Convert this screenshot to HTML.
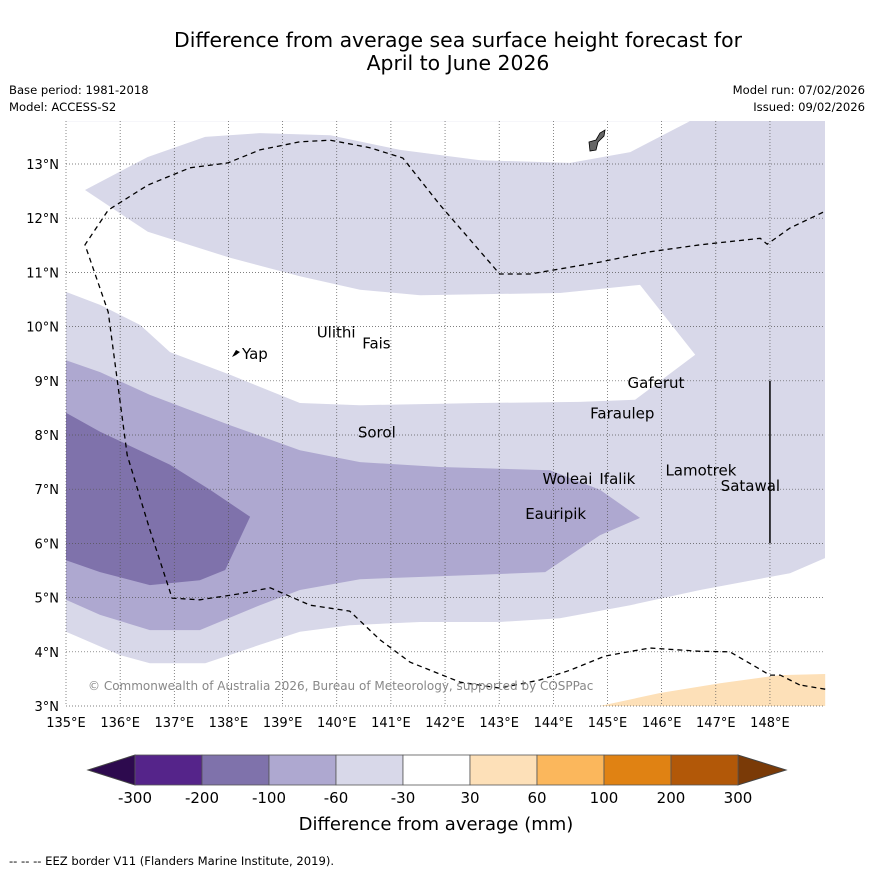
<!DOCTYPE html>
<html><head><meta charset="utf-8"><style>
body{margin:0;background:#fff;}
svg text{font-family:"DejaVu Sans","Liberation Sans",sans-serif;}
</style></head><body>
<svg id="c" width="873" height="873" xmlns="http://www.w3.org/2000/svg">
<text x="458" y="47" font-size="20.4" text-anchor="middle">Difference from average sea surface height forecast for</text>
<text x="458" y="70" font-size="20.4" text-anchor="middle">April to June 2026</text>
<text x="9" y="94" font-size="11.6">Base period: 1981-2018</text>
<text x="9" y="111" font-size="11.6">Model: ACCESS-S2</text>
<text x="865" y="94" font-size="11.6" text-anchor="end">Model run: 07/02/2026</text>
<text x="865" y="111" font-size="11.6" text-anchor="end">Issued: 09/02/2026</text>
<g id="map"></g>
<g id="cb"></g>
<text x="436" y="830" font-size="18" text-anchor="middle">Difference from average (mm)</text>
<text x="9" y="865" font-size="11.6">--  --  -- EEZ border V11 (Flanders Marine Institute, 2019).</text>
</svg>
<script>
const lonTicks=[135,136,137,138,139,140,141,142,143,144,145,146,147,148];
const latTicks=[3,4,5,6,7,8,9,10,11,12,13];
const whiteTop=[[135,13.79],[146.52,13.79],[145.42,13.22],[144.31,13.02],[142.65,13.07],[141.17,13.26],[139.88,13.53],[138.58,13.57],[137.57,13.5],[136.51,13.13],[135.35,12.52],[136.51,11.75],[138.03,11.27],[139.32,10.93],[140.43,10.68],[141.54,10.58],[144.12,10.62],[145.6,10.77],[146.62,9.48],[145.51,8.65],[144.49,8.61],[142.65,8.59],[140.43,8.55],[139.32,8.59],[138.03,9.11],[136.92,9.53],[136.37,10.03],[135.63,10.4],[135,10.64]];
const whiteBottom=[[135,4.37],[136,3.94],[136.55,3.79],[137.57,3.79],[138.58,4.13],[139.32,4.37],[140.24,4.49],[141.54,4.55],[143.01,4.55],[144.12,4.62],[145.42,4.86],[146.71,5.14],[148.37,5.45],[149.02,5.73],[149.02,3],[135,3]];
const orange=[[144.86,3],[145.97,3.24],[147.08,3.42],[148.19,3.57],[149.02,3.59],[149.02,3]];
const mid=[[135,9.38],[135.63,9.16],[136.55,8.74],[138.03,8.18],[139.32,7.72],[140.43,7.5],[141.91,7.41],[143.94,7.35],[144.86,6.99],[145.6,6.47],[144.86,6.15],[143.85,5.47],[142.65,5.42],[140.43,5.34],[139.32,5.14],[138.58,4.86],[137.47,4.4],[136.55,4.4],[135.63,4.68],[135,4.96]];
const dark=[[135,8.41],[135.63,8.06],[136.92,7.45],[137.66,6.99],[138.4,6.49],[137.94,5.51],[137.47,5.32],[136.55,5.23],[135.63,5.47],[135,5.69]];
const eez=[[148.55,3.39],[148.19,3.57],[148.0,3.57],[147.26,4.0],[146.71,4.01],[145.78,4.07],[144.95,3.92],[144.31,3.66],[143.75,3.48],[143.01,3.33],[142.28,3.44],[141.35,3.81],[140.8,4.22],[140.24,4.75],[139.51,4.86],[138.77,5.18],[138.21,5.07],[137.47,4.96],[136.96,4.99],[136.55,6.25],[136.13,7.63],[135.78,10.27],[135.35,11.51],[135.78,12.15],[136.51,12.61],[137.29,12.93],[137.99,13.02],[138.58,13.26],[139.32,13.41],[139.88,13.44],[140.61,13.3],[141.22,13.11],[141.91,12.24],[143.01,10.97],[143.57,10.97],[144.86,11.19],[145.78,11.38],[146.71,11.51],[147.82,11.63],[147.95,11.52],[148.37,11.82],[149.02,12.13]];
const eezTail=[[149.02,3.31],[148.55,3.39]];
const islands=[["Ulithi",139.63,9.8],["Fais",140.47,9.6],["Yap",138.25,9.4],["Gaferut",145.37,8.87],["Faraulep",144.68,8.3],["Sorol",140.39,7.95],["Woleai",143.8,7.1],["Ifalik",144.85,7.1],["Lamotrek",146.07,7.25],["Satawal",147.09,6.97],["Eauripik",143.48,6.45]];
const cbLevels=["-300","-200","-100","-60","-30","30","60","100","200","300"];
const cbColors=["#55248a","#7f72ab","#aea8d0","#d8d8e9","#ffffff","#fde0b8","#fbb75c","#e08213","#b25808"];
const NS="http://www.w3.org/2000/svg";
const X=l=>66+(l-135)*54.15, Y=t=>706-(t-3)*54.2;
function mk(tag,attrs,parent){const e=document.createElementNS(NS,tag);for(const k in attrs)e.setAttribute(k,attrs[k]);parent.appendChild(e);return e;}
const map=document.getElementById('map');
const pts=a=>a.map(p=>X(p[0]).toFixed(1)+','+Y(p[1]).toFixed(1)).join(' ');
let bg=mk('rect',{x:66,y:121,width:759,height:585,fill:'#d8d8e9'},map);


[[whiteTop,'#ffffff','near-zero-region-north'],[whiteBottom,'#ffffff','near-zero-region-south'],[orange,'#fde0b8','positive-anomaly-region'],[mid,'#aea8d0','anomaly-60-100-region'],[dark,'#7f72ab','anomaly-100-200-region']].forEach(([a,c,n])=>{
 const p=mk('polygon',{points:pts(a),fill:c},map);
 
 
});
lonTicks.forEach(l=>{
 const g=mk('line',{x1:X(l),x2:X(l),y1:121,y2:706,stroke:'#555','stroke-width':0.7,'stroke-dasharray':'1,2'},map);
 
 
 const t=mk('text',{x:X(l),y:727,'font-size':13,'text-anchor':'middle'},map);t.textContent=l+'°E';
 
 
});
latTicks.forEach(l=>{
 const g=mk('line',{x1:66,x2:825,y1:Y(l),y2:Y(l),stroke:'#555','stroke-width':0.7,'stroke-dasharray':'1,2'},map);
 
 
 const t=mk('text',{x:59,y:Y(l)+5,'font-size':13,'text-anchor':'end'},map);t.textContent=l+'°N';
 
 
});
let e1=mk('polyline',{points:pts(eez),fill:'none',stroke:'#000','stroke-width':1.3,'stroke-dasharray':'5,4'},map);


let e2=mk('polyline',{points:pts(eezTail),fill:'none',stroke:'#000','stroke-width':1.3,'stroke-dasharray':'5,4'},map);


let vl=mk('line',{x1:X(148),x2:X(148),y1:Y(9),y2:Y(6),stroke:'#000','stroke-width':1.5},map);


let guam=mk('polygon',{points:'589,142 596,140 600,133 605,130 604,136 598,142 596,150 590,151',fill:'#666',stroke:'#000','stroke-width':0.8},map);


let yap=mk('polygon',{points:'232,357 236,350 240,352 236,355',fill:'#000'},map);


islands.forEach(([n,lo,la])=>{
 const t=mk('text',{x:X(lo),y:Y(la),'font-size':15},map);t.textContent=n;
 
 
});
let cp=mk('text',{x:88,y:690,'font-size':12,fill:'#888'},map);cp.textContent='© Commonwealth of Australia 2026, Bureau of Meteorology, supported by COSPPac';


const cb=document.getElementById('cb');
const cx0=135,cx1=738,cy=755,ch=30,seg=(cx1-cx0)/cbColors.length;
let lt=mk('polygon',{points:`${cx0},${cy} ${cx0},${cy+ch} 88,${cy+ch/2}`,fill:'#2d0a4e',stroke:'#444'},cb);


let rt=mk('polygon',{points:`${cx1},${cy} ${cx1},${cy+ch} 786,${cy+ch/2}`,fill:'#7a3a07',stroke:'#444'},cb);


cbColors.forEach((c,i)=>{
 const r=mk('rect',{x:cx0+i*seg,y:cy,width:seg,height:ch,fill:c,stroke:'#555','stroke-width':0.8},cb);
 
 
});
cbLevels.forEach((v,i)=>{
 const t=mk('text',{x:cx0+i*seg,y:803,'font-size':15,'text-anchor':'middle'},cb);t.textContent=v;
 
 
});
</script>
</body></html>
